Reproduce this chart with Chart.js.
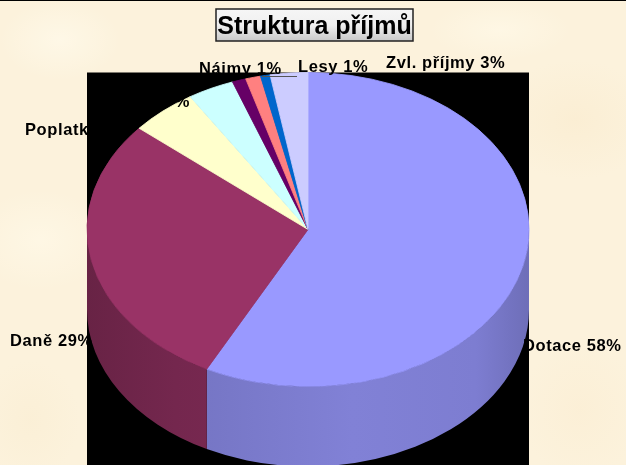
<!DOCTYPE html>
<html>
<head>
<meta charset="utf-8">
<style>
html,body{margin:0;padding:0;width:626px;height:465px;overflow:hidden;
background-color:#fcf2dc;
background-image:
 radial-gradient(ellipse 60px 40px at 60px 40px,rgba(255,250,235,.7),transparent),
 radial-gradient(ellipse 70px 50px at 40px 240px,rgba(255,249,232,.7),transparent),
 radial-gradient(ellipse 80px 60px at 575px 120px,rgba(250,236,208,.7),transparent),
 radial-gradient(ellipse 60px 70px at 580px 410px,rgba(251,238,212,.7),transparent),
 radial-gradient(ellipse 50px 60px at 30px 420px,rgba(250,238,212,.7),transparent),
 radial-gradient(ellipse 70px 30px at 500px 30px,rgba(255,249,232,.7),transparent);}
canvas{display:block;position:absolute;left:0;top:0}
</style>
<script src="https://cdn.jsdelivr.net/npm/chart.js@4"></script>
</head>
<body>
<canvas id="c" width="626" height="465"></canvas>
<script>
const titleText = "Struktura příjmů";
const categories = ["Dotace 58%","Daně 29%","Poplatky 5%","%","Náimy 1%","","Lesy 1%","Zvl. příjmy 3%"];
const values = [57.6,28.6,4.9,3.4,1.0,1.1,0.7,2.75];
const sliceColors = ["#9999FF","#993366","#FFFFCC","#CCFFFF","#660066","#FF8080","#0066CC","#CCCCFF"];
const labelAnchors = [[523,351,"left"],[10,346,"left"],[25,135,"left"],[190,107,"right"],[199,74,"left"],null,[298,72,"left"],[386,68,"left"]];
const squash = 157/221, depth = 80;

function shade(hex,f){
  const n=parseInt(hex.slice(1),16);
  return `rgb(${Math.round((n>>16&255)*f)},${Math.round((n>>8&255)*f)},${Math.round((n&255)*f)})`;
}
const pie3d = {
  id:"pie3d",
  beforeDatasetsDraw(chart){
    const ctx=chart.ctx, arcs=chart.getDatasetMeta(0).data, a0=arcs[0];
    const cx=a0.x, cy=a0.y, rx=a0.outerRadius, ry=rx*squash;
    ctx.save();
    ctx.fillStyle="#000";
    ctx.fillRect(cx-rx,cy-ry,2*rx,chart.height-(cy-ry));
    arcs.forEach((a,i)=>{
      const s=Math.max(a.startAngle,0), e=Math.min(a.endAngle,Math.PI);
      if(e<=s) return;
      const g=ctx.createLinearGradient(cx-rx,0,cx+rx,0);
      g.addColorStop(0,shade(sliceColors[i],.68));
      g.addColorStop(.2,shade(sliceColors[i],.76));
      g.addColorStop(.6,shade(sliceColors[i],.84));
      g.addColorStop(.88,shade(sliceColors[i],.82));
      g.addColorStop(1,shade(sliceColors[i],.72));
      ctx.fillStyle=g;
      ctx.beginPath();
      ctx.ellipse(cx,cy,rx,ry,0,s,e);
      ctx.ellipse(cx,cy+depth,rx,ry,0,e,s,true);
      ctx.closePath();
      ctx.fill();
    });
    ctx.restore();
    ctx.save();
    ctx.translate(0,cy);
    ctx.scale(1,squash);
    ctx.translate(0,-cy);
  },
  afterDatasetsDraw(chart){
    const ctx=chart.ctx;
    ctx.restore();
    ctx.save();
    ctx.fillStyle="#000";
    ctx.fillRect(0,0,626,1);
    ctx.strokeStyle="#555";
    ctx.lineWidth=1;
    ctx.beginPath();ctx.moveTo(262,76.5);ctx.lineTo(297,76.5);ctx.stroke();
    ctx.font="bold 16.5px 'Liberation Sans',Arial,sans-serif";
    ctx.letterSpacing="0.6px";
    ctx.fillStyle="#000";
    ctx.textBaseline="alphabetic";
    categories.forEach((t,i)=>{
      const p=labelAnchors[i];
      if(!p||!t) return;
      ctx.textAlign=p[2];
      ctx.fillText(t,p[0],p[1]);
    });
    ctx.letterSpacing="0px";
    const g=ctx.createLinearGradient(0,9,0,41);
    g.addColorStop(0,"#f6f6f6");g.addColorStop(.5,"#f0f0f0");g.addColorStop(1,"#c8c8c8");
    ctx.fillStyle=g;
    ctx.fillRect(216,9,197,32);
    ctx.strokeStyle="#222";
    ctx.lineWidth=1.5;
    ctx.strokeRect(216,9,197,32);
    ctx.fillStyle="#000";
    ctx.font="bold 25px 'Liberation Sans',Arial,sans-serif";
    ctx.textAlign="center";
    ctx.fillText(titleText,314.5,34);
    ctx.restore();
  }
};
new Chart(document.getElementById("c"),{
  type:"pie",
  data:{labels:categories,datasets:[{data:values,backgroundColor:sliceColors,borderColor:sliceColors,borderWidth:1}]},
  options:{
    responsive:false,animation:false,events:[],
    layout:{padding:{left:0,right:10,top:8,bottom:14}},
    plugins:{legend:{display:false},tooltip:{enabled:false},title:{display:false}}
  },
  plugins:[pie3d]
});
</script>
</body>
</html>
